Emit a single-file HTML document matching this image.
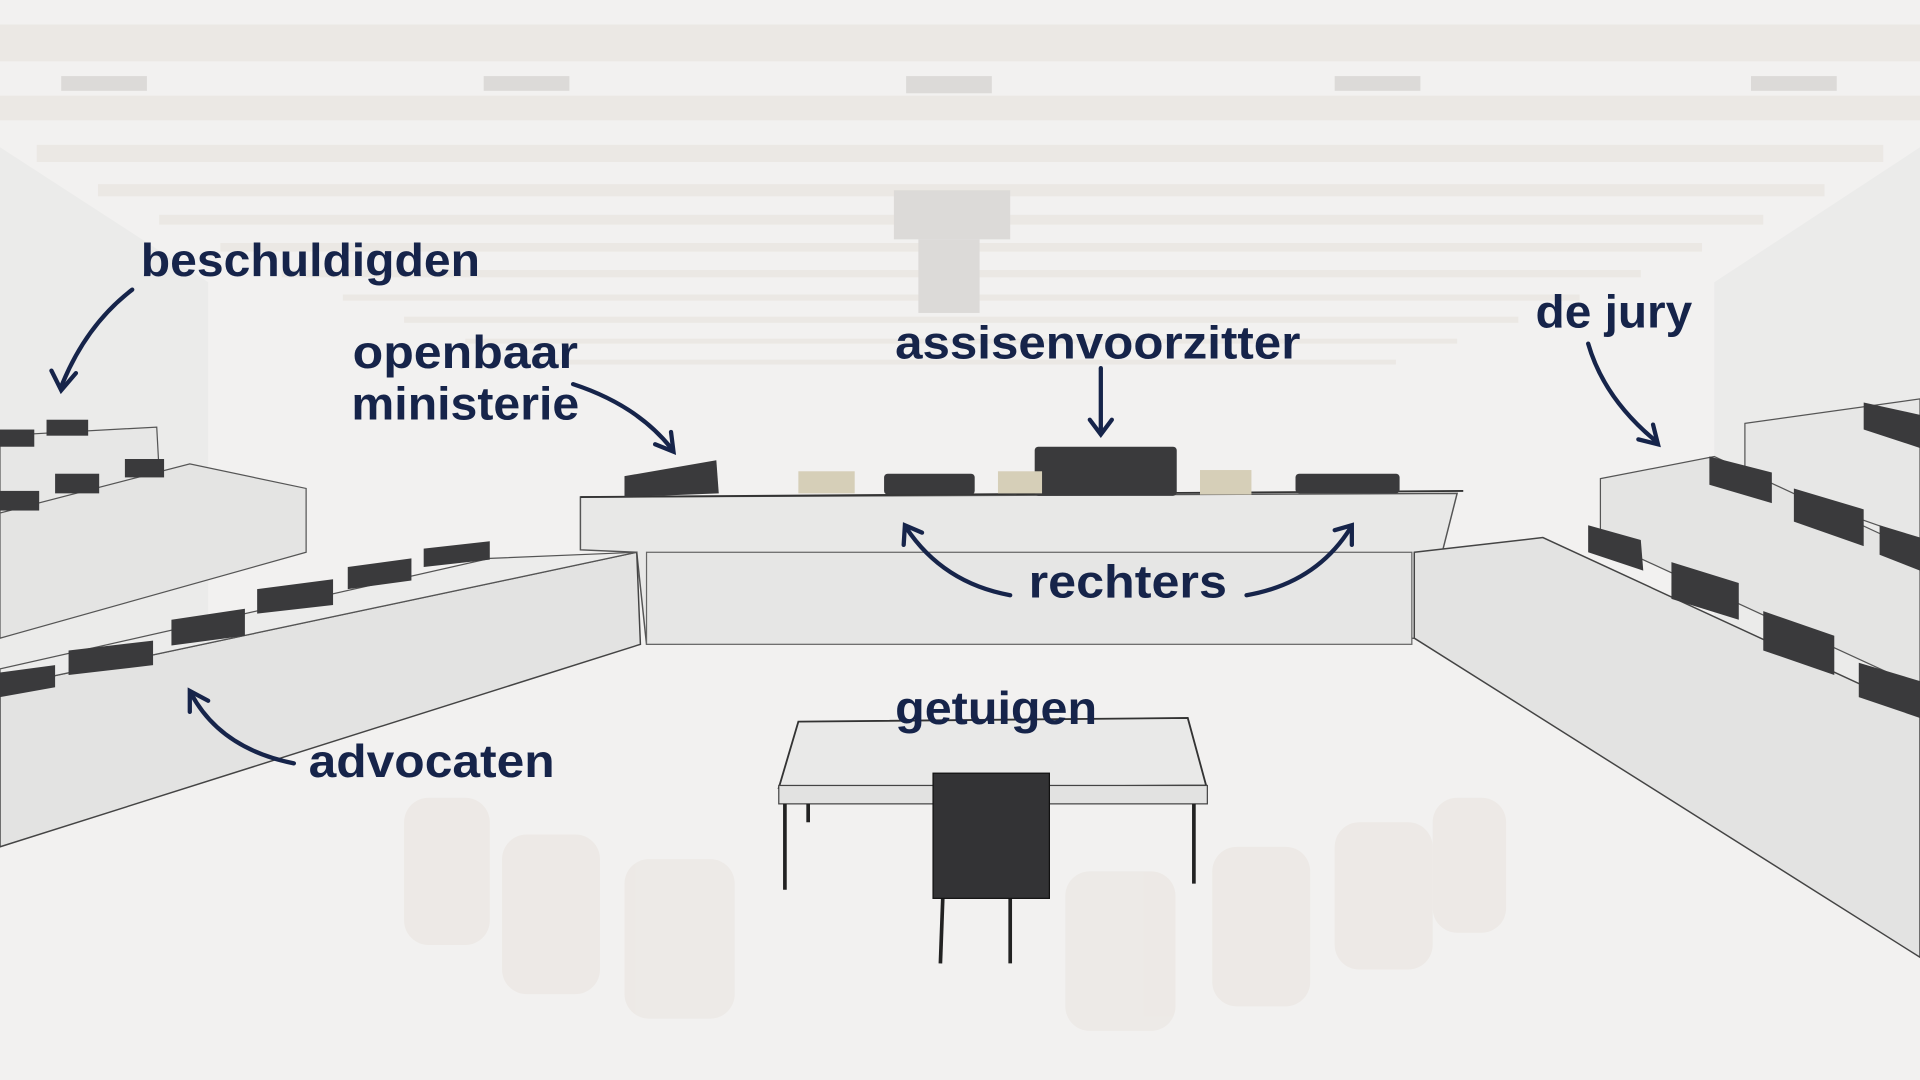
<!DOCTYPE html>
<html><head><meta charset="utf-8"><style>
html,body{margin:0;padding:0;background:#f1f0ef;overflow:hidden}
svg{display:block}
text{font-family:"Liberation Sans",sans-serif;font-weight:bold;fill:#16244a}
</style></head><body>
<svg width="1920" height="1080" viewBox="0 0 1568 880" preserveAspectRatio="none">
<rect width="1568" height="880" fill="#f2f1f0"/>
<g fill="#ebe8e4">
<rect x="0" y="20" width="1568" height="30"/>
<rect x="0" y="78" width="1568" height="20"/>
<rect x="30" y="118" width="1508" height="14"/>
<rect x="80" y="150" width="1410" height="10"/>
<rect x="130" y="175" width="1310" height="8"/>
<rect x="180" y="198" width="1210" height="7"/>
<rect x="230" y="220" width="1110" height="6"/>
<rect x="280" y="240" width="1010" height="5"/>
<rect x="330" y="258" width="910" height="5"/>
<rect x="380" y="276" width="810" height="4"/>
<rect x="430" y="293" width="710" height="4"/>
</g>
<g fill="#dcdad8">
<rect x="50" y="62" width="70" height="12"/><rect x="395" y="62" width="70" height="12"/><rect x="740" y="62" width="70" height="14"/><rect x="1090" y="62" width="70" height="12"/><rect x="1430" y="62" width="70" height="12"/>
<rect x="730" y="155" width="95" height="40"/><rect x="750" y="195" width="50" height="60"/>
</g>
<polygon points="0,120 170,230 170,560 0,640" fill="#ebebea"/>
<polygon points="1568,120 1400,230 1400,560 1568,640" fill="#ebebea"/>
<g fill="#ebe7e2" opacity="0.7">
<rect x="330" y="650" width="70" height="120" rx="20"/><rect x="410" y="680" width="80" height="130" rx="20"/><rect x="510" y="700" width="90" height="130" rx="20"/>
<rect x="870" y="710" width="90" height="130" rx="20"/><rect x="990" y="690" width="80" height="130" rx="20"/><rect x="1090" y="670" width="80" height="120" rx="20"/><rect x="1170" y="650" width="60" height="110" rx="20"/>
</g>
<polygon points="474,405 1190,402 1160,520 528,525 520,450 474,448" fill="#e8e8e7" stroke="#555" stroke-width="1.2"/>
<line x1="474" y1="405" x2="1195" y2="400" stroke="#333" stroke-width="1.5"/>
<rect x="528" y="450" width="625" height="75" fill="#e6e6e5" stroke="#666"/>
<g fill="#3a3a3c">
<polygon points="510,388 585,375 587,402 510,405"/>
<rect x="722" y="386" width="74" height="17" rx="3"/>
<rect x="845" y="364" width="116" height="40" rx="3"/>
<rect x="1058" y="386" width="85" height="16" rx="3"/>
</g>
<g fill="#d6cfb8"><rect x="652" y="384" width="46" height="18"/><rect x="815" y="384" width="36" height="18"/><rect x="980" y="383" width="42" height="20"/></g>
<polygon points="0,355 128,348 130,385 0,430" fill="#e7e7e6" stroke="#555"/>
<polygon points="0,418 155,378 250,398 250,450 0,520" fill="#e4e4e3" stroke="#555"/>
<polygon points="0,560 520,450 523,525 0,690" fill="#e3e3e2" stroke="#444" stroke-width="1.2"/>
<polygon points="0,560 520,450 400,455 0,545" fill="#ececeb" stroke="#555"/>
<g fill="#3a3a3c">
<rect x="0" y="350" width="28" height="14"/><rect x="38" y="342" width="34" height="13"/>
<rect x="0" y="400" width="32" height="16"/><rect x="45" y="386" width="36" height="16"/><rect x="102" y="374" width="32" height="15"/>
<polygon points="0,548 45,542 45,560 0,568"/><polygon points="56,530 125,522 125,542 56,550"/><polygon points="140,505 200,496 200,518 140,526"/><polygon points="210,480 272,472 272,493 210,500"/><polygon points="284,462 336,455 336,473 284,480"/><polygon points="346,447 400,441 400,456 346,462"/>
</g>
<polygon points="1425,345 1568,325 1568,440 1425,390" fill="#e7e7e6" stroke="#555"/>
<polygon points="1307,390 1400,372 1568,450 1568,560 1307,440" fill="#e4e4e3" stroke="#555"/>
<polygon points="1155,450 1260,438 1568,580 1568,780 1155,520" fill="#e3e3e2" stroke="#444" stroke-width="1.2"/>
<g fill="#3a3a3c">
<polygon points="1522,328 1568,338 1568,365 1522,350"/>
<polygon points="1396,372 1447,385 1447,410 1396,395"/><polygon points="1465,398 1522,415 1522,445 1465,425"/><polygon points="1535,428 1568,438 1568,465 1535,452"/>
<polygon points="1297,428 1340,440 1342,465 1297,450"/><polygon points="1365,458 1420,475 1420,505 1365,488"/><polygon points="1440,498 1498,518 1498,550 1440,530"/><polygon points="1518,540 1568,555 1568,585 1518,568"/>
</g>
<polygon points="652,588 970,585 985,640 636,642" fill="#e9e9e8" stroke="#333" stroke-width="1.5"/>
<rect x="636" y="640" width="350" height="15" fill="#e2e2e1" stroke="#444"/>
<g stroke="#222" stroke-width="3"><line x1="641" y1="655" x2="641" y2="725"/><line x1="660" y1="655" x2="660" y2="670"/><line x1="975" y1="655" x2="975" y2="720"/><line x1="770" y1="730" x2="768" y2="785"/><line x1="825" y1="730" x2="825" y2="785"/></g>
<rect x="762" y="630" width="95" height="102" fill="#333335" stroke="#111"/>
<text x="115" y="225" font-size="38" textLength="277" lengthAdjust="spacingAndGlyphs">beschuldigden</text>
<text x="288" y="300" font-size="38" textLength="184" lengthAdjust="spacingAndGlyphs">openbaar</text>
<text x="287" y="342" font-size="38" textLength="186" lengthAdjust="spacingAndGlyphs">ministerie</text>
<text x="731" y="292" font-size="38" textLength="331" lengthAdjust="spacingAndGlyphs">assisenvoorzitter</text>
<text x="1254" y="267" font-size="38" textLength="128" lengthAdjust="spacingAndGlyphs">de jury</text>
<text x="840" y="487" font-size="38" textLength="162" lengthAdjust="spacingAndGlyphs">rechters</text>
<text x="731" y="590" font-size="38" textLength="165" lengthAdjust="spacingAndGlyphs">getuigen</text>
<text x="252" y="633" font-size="38" textLength="201" lengthAdjust="spacingAndGlyphs">advocaten</text>
<g fill="none" stroke="#16244a" stroke-width="3.5" stroke-linecap="round">
<path d="M108,236 Q70,265 50,315"/><path d="M42,302 L50,318 L62,304"/>
<path d="M468,313 Q520,330 548,365"/><path d="M535,362 L550,368 L548,352"/>
<path d="M899,300 L899,352"/><path d="M890,342 L899,354 L908,342"/>
<path d="M1297,280 Q1310,325 1353,360"/><path d="M1338,358 L1354,362 L1350,346"/>
<path d="M825,485 Q770,475 740,430"/><path d="M738,444 L739,428 L753,434"/>
<path d="M1018,485 Q1075,475 1103,430"/><path d="M1090,432 L1104,428 L1104,444"/>
<path d="M240,622 Q180,610 156,565"/><path d="M155,580 L155,563 L170,571"/>
</g>
</svg>
</body></html>
